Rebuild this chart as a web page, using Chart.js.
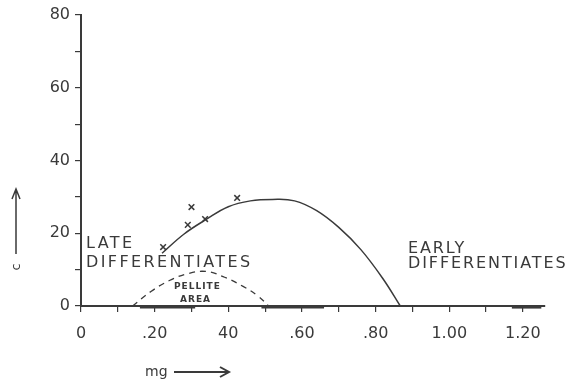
<!DOCTYPE html>
<html>
<head>
<meta charset="utf-8">
<script src="https://cdn.jsdelivr.net/npm/chart.js@4/dist/chart.umd.min.js"></script>
<style>
  body { margin: 0; background: #fff; }
  #wrap { width: 565px; height: 385px; position: relative; }
</style>
</head>
<body>
<div id="wrap"><canvas id="chart"></canvas></div>
<script>
// solid curve (upper)
const curveX = [0.22, 0.28, 0.34, 0.40, 0.46, 0.52, 0.58, 0.64, 0.70, 0.76, 0.82, 0.867];
const curveY = [14.5, 19.8, 23.8, 27.3, 28.9, 29.3, 28.9, 26.2, 21.6, 15.5, 7.5, 0];
// dashed curve (pellite area)
const pelliteX = [0.14, 0.19, 0.24, 0.29, 0.34, 0.39, 0.44, 0.48, 0.51];
const pelliteY = [0, 4, 7, 8.9, 9.5, 7.9, 5.4, 2.8, 0];
// plotted x marks
const markX = [0.223, 0.29, 0.30, 0.337, 0.424];
const markY = [16.2, 22.3, 27.2, 23.9, 29.7];
// heavy strokes along the base line (start / end)
const baseStart = [0.16, 0.49, 1.17];
const baseEnd = [0.31, 0.66, 1.25];
const baseLevel = -0.3;

const xTickValues = [0, 0.2, 0.4, 0.6, 0.8, 1.0, 1.2];
const xTickLabels = ['0', '.20', '40', '.60', '.80', '1.00', '1.20'];
const yTickValues = [0, 20, 40, 60, 80];
const yTickLabels = ['0', '20', '40', '60', '80'];

const notes = ['LATE', 'DIFFERENTIATES', 'EARLY', 'DIFFERENTIATES', 'PELLITE', 'AREA'];

const ink = '#3a3a3a';

function pts(xs, ys) {
  return xs.map((x, i) => ({ x: x, y: ys[i] }));
}

function minorTicks(major, step) {
  const out = [];
  const last = major[major.length - 1];
  for (let v = 0; v <= last + 1e-9; v += step) out.push({ value: Math.round(v * 100) / 100 });
  return out;
}

function labelFor(values, labels) {
  return function(value) {
    const i = values.findIndex(v => Math.abs(v - value) < 1e-6);
    return i >= 0 ? labels[i] : '';
  };
}

const textPlugin = {
  id: 'notes',
  afterDraw(chart) {
    const ctx = chart.ctx;
    ctx.save();
    ctx.fillStyle = ink;
    ctx.textBaseline = 'middle';
    ctx.font = '16px "DejaVu Sans"';
    ctx.letterSpacing = '2.4px';
    ctx.fillText(notes[0], 86, 244);
    ctx.fillText(notes[1], 86, 263);
    ctx.letterSpacing = '1.9px';
    ctx.fillText(notes[2], 408, 249);
    ctx.fillText(notes[3], 408, 264);
    ctx.letterSpacing = '1px';
    ctx.font = 'bold 9px "DejaVu Sans"';
    ctx.fillText(notes[4], 174, 287);
    ctx.fillText(notes[5], 180, 300);
    ctx.letterSpacing = '0px';

    // x axis title
    ctx.font = '14px "DejaVu Sans"';
    ctx.fillText('mg', 145, 372);
    ctx.strokeStyle = ink;
    ctx.lineWidth = 2;
    ctx.beginPath();
    ctx.moveTo(174, 372); ctx.lineTo(228, 372);
    ctx.moveTo(220, 367); ctx.lineTo(229, 372); ctx.lineTo(220, 377);
    ctx.stroke();

    // y axis title
    ctx.lineWidth = 1.5;
    ctx.beginPath();
    ctx.moveTo(16, 254); ctx.lineTo(16, 190);
    ctx.moveTo(12, 199); ctx.lineTo(16, 189); ctx.lineTo(20, 199);
    ctx.stroke();
    ctx.translate(17, 267);
    ctx.rotate(-Math.PI / 2);
    ctx.textAlign = 'center';
    ctx.font = '13px "DejaVu Sans"';
    ctx.fillText('c', 0, 0);
    ctx.restore();
  }
};

const baseSets = baseStart.map((s, i) => ({
  type: 'line',
  data: [{ x: s, y: baseLevel }, { x: baseEnd[i], y: baseLevel }],
  borderColor: ink,
  borderWidth: 3,
  pointRadius: 0,
  fill: false
}));

new Chart(document.getElementById('chart'), {
  type: 'scatter',
  data: {
    datasets: [
      {
        type: 'line',
        data: pts(curveX, curveY),
        borderColor: ink,
        borderWidth: 1.5,
        tension: 0.4,
        pointRadius: 0,
        fill: false
      },
      {
        type: 'line',
        data: pts(pelliteX, pelliteY),
        borderColor: ink,
        borderWidth: 1.3,
        borderDash: [6, 5],
        tension: 0.4,
        pointRadius: 0,
        fill: false
      },
      ...baseSets,
      {
        data: pts(markX, markY),
        pointStyle: 'crossRot',
        pointRadius: 4,
        borderColor: ink,
        borderWidth: 1.5
      }
    ]
  },
  options: {
    responsive: true,
    maintainAspectRatio: false,
    animation: false,
    clip: false,
    layout: { padding: { top: 15, right: 20, left: 0, bottom: 0 } },
    plugins: {
      legend: { display: false },
      tooltip: { enabled: false }
    },
    scales: {
      x: {
        type: 'linear',
        min: 0,
        max: 1.26,
        afterBuildTicks: s => { s.ticks = minorTicks(xTickValues, 0.1); },
        afterFit: s => { s.height = 79; },
        border: { display: true, color: ink, width: 2 },
        grid: { drawOnChartArea: false, drawTicks: true, tickLength: 6, color: ink, lineWidth: 1.2 },
        ticks: {
          autoSkip: false,
          maxRotation: 0,
          padding: 12,
          color: ink,
          font: { family: 'DejaVu Sans', size: 16 },
          callback: labelFor(xTickValues, xTickLabels)
        }
      },
      y: {
        min: 0,
        max: 80,
        afterBuildTicks: s => { s.ticks = minorTicks(yTickValues, 10); },
        afterFit: s => { s.width = 81; },
        border: { display: true, color: ink, width: 2 },
        grid: { drawOnChartArea: false, drawTicks: true, tickLength: 6, color: ink, lineWidth: 1.2 },
        ticks: {
          autoSkip: false,
          padding: 5,
          color: ink,
          font: { family: 'DejaVu Sans', size: 16 },
          callback: labelFor(yTickValues, yTickLabels)
        }
      }
    }
  },
  plugins: [textPlugin]
});
</script>
</body>
</html>
